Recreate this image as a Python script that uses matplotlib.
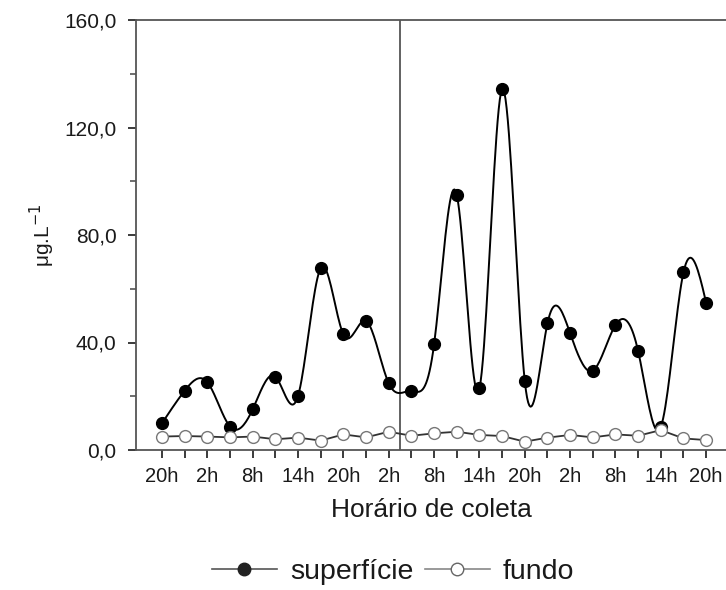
import numpy as np
import matplotlib
matplotlib.use("Agg")
import matplotlib.pyplot as plt
from matplotlib.lines import Line2D

plt.rcParams['font.family'] = ['Liberation Sans', 'DejaVu Sans']

# Data (sampling every 3 h, 25 samples)
tick_labels = ["20h", "2h", "8h", "14h", "20h", "2h", "8h", "14h", "20h", "2h", "8h", "14h", "20h"]
superficie = [10.0, 22.1, 25.2, 8.7, 15.2, 27.3, 20.2, 67.7, 43.0, 48.0, 24.8, 22.0,
              39.4, 94.9, 23.0, 134.3, 25.6, 47.1, 43.4, 29.5, 46.5, 36.8, 8.6, 66.1, 54.8]
fundo = [5.0, 5.2, 5.0, 4.7, 5.0, 4.0, 4.6, 3.5, 5.8, 4.7, 6.8, 5.3,
         6.2, 6.8, 5.6, 5.2, 3.1, 4.6, 5.6, 4.7, 5.8, 5.3, 7.4, 4.3, 3.7]
divider = 10.5


def natural_spline(x, y, n=20):
    x = np.asarray(x, float); y = np.asarray(y, float)
    m = len(x); h = np.diff(x)
    A = np.zeros((m, m)); b = np.zeros(m)
    A[0, 0] = A[-1, -1] = 1
    for i in range(1, m - 1):
        A[i, i - 1] = h[i - 1]; A[i, i] = 2 * (h[i - 1] + h[i]); A[i, i + 1] = h[i]
        b[i] = 6 * ((y[i + 1] - y[i]) / h[i] - (y[i] - y[i - 1]) / h[i - 1])
    M = np.linalg.solve(A, b)
    xs, ys = [], []
    for i in range(m - 1):
        t = np.linspace(x[i], x[i + 1], n, endpoint=(i == m - 2))
        a = x[i + 1] - t; c = t - x[i]
        s = (M[i] * a**3 + M[i + 1] * c**3) / (6 * h[i]) \
            + (y[i] / h[i] - M[i] * h[i] / 6) * a + (y[i + 1] / h[i] - M[i + 1] * h[i] / 6) * c
        xs.append(t); ys.append(s)
    return np.concatenate(xs), np.concatenate(ys)


x = np.arange(len(superficie))
fig = plt.figure(figsize=(7.26, 5.9), dpi=100)
ax = fig.add_axes([136 / 726, 140 / 590, 590 / 726, 430 / 590])

axcol = '#555555'
txtcol = '#1a1a1a'
xs, ys = natural_spline(x, superficie)
ax.plot(xs, ys, color='black', lw=1.4, zorder=2)
ax.plot(x, superficie, 'o', color='black', ms=8.5, zorder=3)
ax.plot(x, fundo, '-o', color='#333333', lw=1.3, mfc='white', mec='#777777', ms=8.5, mew=1.0, zorder=4)
ax.axvline(divider, color=axcol, lw=1.3, zorder=1)

ax.set_xlim(-1.15, (726 - 136) / 22.67 - 1.15)
ax.set_ylim(0, 160)
ax.set_yticks([0, 40, 80, 120, 160])
ax.set_yticklabels([f"{v:.1f}".replace('.', ',') for v in [0, 40, 80, 120, 160]])
ax.set_yticks([20, 60, 100, 140], minor=True)
ax.set_xticks(x)
ax.set_xticklabels([tick_labels[i // 2] if i % 2 == 0 else "" for i in x])

for s in ['left', 'top', 'bottom']:
    ax.spines[s].set_color(axcol); ax.spines[s].set_linewidth(1.3)
ax.spines['right'].set_visible(False)
ax.tick_params(axis='both', which='both', direction='out', color=axcol, width=1.2)
ax.tick_params(axis='both', which='major', length=6, colors=txtcol)
ax.tick_params(axis='y', which='major', labelsize=15, pad=8)
ax.tick_params(axis='x', which='major', labelsize=14.5, pad=6)
ax.tick_params(axis='y', which='minor', length=4)

ax.set_xlabel("Horário de coleta", fontsize=19, color=txtcol, labelpad=9)
ax.set_ylabel("μg.L$^{-1}$", fontsize=15, color=txtcol, labelpad=5)

handles = [Line2D([], [], color='#555555', lw=1.2, marker='o', mfc='#222222', mec='#222222', ms=9),
           Line2D([], [], color='#888888', lw=1.2, marker='o', mfc='white', mec='#666666', ms=9)]
fig.legend(handles, ["superfície", "fundo"], loc='center', bbox_to_anchor=(393 / 726, 1 - 572 / 590),
           ncol=2, frameon=False, fontsize=20.5, handlelength=2.3, columnspacing=0.4, handletextpad=0.45,
           labelcolor=txtcol, borderpad=0.2)

fig.savefig("out.png", dpi=100)
